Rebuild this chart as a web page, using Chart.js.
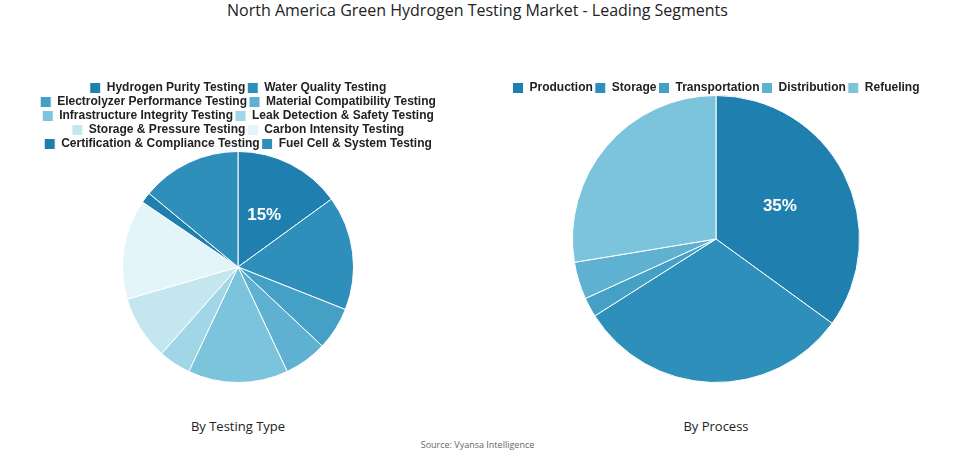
<!DOCTYPE html>
<html>
<head>
<meta charset="utf-8">
<script src="https://cdn.jsdelivr.net/npm/chart.js@4"></script>
<style>
    body { margin: 0; background: #fff; width: 955px; height: 454px; position: relative; overflow: hidden; font-family: "Open Sans", sans-serif; }
    #title { position: absolute; top: -1px; left: 0; width: 955px; text-align: center; font-size: 16px; color: #222; }
    .sub { position: absolute; top: 417px; font-size: 13px; color: #222; text-align: center; width: 300px; }
    #source { position: absolute; top: 438px; left: 0; width: 955px; text-align: center; font-size: 9px; color: #666; }
    .box { position: absolute; top: 80px; height: 306px; }
</style>
</head>
<body>
<div id="title">North America Green Hydrogen Testing Market - Leading Segments</div>
<div class="box" style="left:18px;width:440px"><canvas id="chartType"></canvas></div>
<div class="box" style="left:477px;width:478px"><canvas id="chartProcess"></canvas></div>
<div class="sub" style="left:88px">By Testing Type</div>
<div class="sub" style="left:566px">By Process</div>
<div id="source">Source: Vyansa Intelligence</div>

<script>
// DATA
const typeLabels = ['Hydrogen Purity Testing', 'Water Quality Testing', 'Electrolyzer Performance Testing',
    'Material Compatibility Testing', 'Infrastructure Integrity Testing', 'Leak Detection & Safety Testing',
    'Storage & Pressure Testing', 'Carbon Intensity Testing', 'Certification & Compliance Testing',
    'Fuel Cell & System Testing'];
const typeValues = [15, 16, 6, 6, 14, 4.5, 9, 14, 1.5, 14];

const processLabels = ['Production', 'Storage', 'Transportation', 'Distribution', 'Refueling'];
const processValues = [35, 31, 2.2, 4.2, 27.6];

// colours
const blues = ['#1f7fae', '#2e8fbb', '#45a0c6', '#5fb1d1', '#7cc3dc', '#a0d6e5', '#c4e7ef', '#e3f5f9'];
const typeColors = blues.concat(['#1f7fae', '#2e8fbb']);
const processColors = blues.slice(0, 5);

// label only the biggest (first) slice
const firstSliceLabel = {
    id: 'firstSliceLabel',
    afterDatasetsDraw(chart) {
        const ctx = chart.ctx;
        const arc = chart.getDatasetMeta(0).data[0];
        const data = chart.data.datasets[0].data;
        const total = data.reduce((a, b) => a + b, 0);
        const pos = arc.tooltipPosition();
        ctx.save();
        ctx.fillStyle = '#fff';
        ctx.font = 'bold 17px "Liberation Sans", Arial, sans-serif';
        ctx.textAlign = 'center';
        ctx.textBaseline = 'middle';
        ctx.fillText(Math.round(data[0] / total * 100) + '%', pos.x, pos.y);
        ctx.restore();
    }
};

// pull the pie a bit closer to the legend
const tightLegend = {
    id: 'tightLegend',
    beforeInit(chart) {
        const fit = chart.legend.fit;
        chart.legend.fit = function () {
            fit.bind(chart.legend)();
            this.height -= 9;
        };
    }
};

function makePie(id, labels, values, colors) {
    return new Chart(document.getElementById(id), {
        type: 'pie',
        data: {
            labels: labels,
            datasets: [{
                data: values,
                backgroundColor: colors,
                borderColor: '#fff',
                borderWidth: 1,
            }],
        },
        options: {
            responsive: true,
            maintainAspectRatio: false,
            animation: false,
            layout: {padding: {top: 0, bottom: 3}},
            plugins: {
                legend: {
                    position: 'top',
                    labels: {
                        boxWidth: 11,
                        boxHeight: 11,
                        padding: 2,
                        color: '#222',
                        font: {family: '"Liberation Sans", Arial, sans-serif', size: 12, weight: 'bold'},
                    },
                },
                tooltip: {enabled: false},
            },
        },
        plugins: [firstSliceLabel, tightLegend],
    });
}

makePie('chartType', typeLabels, typeValues, typeColors);
makePie('chartProcess', processLabels, processValues, processColors);
</script>
</body>
</html>
